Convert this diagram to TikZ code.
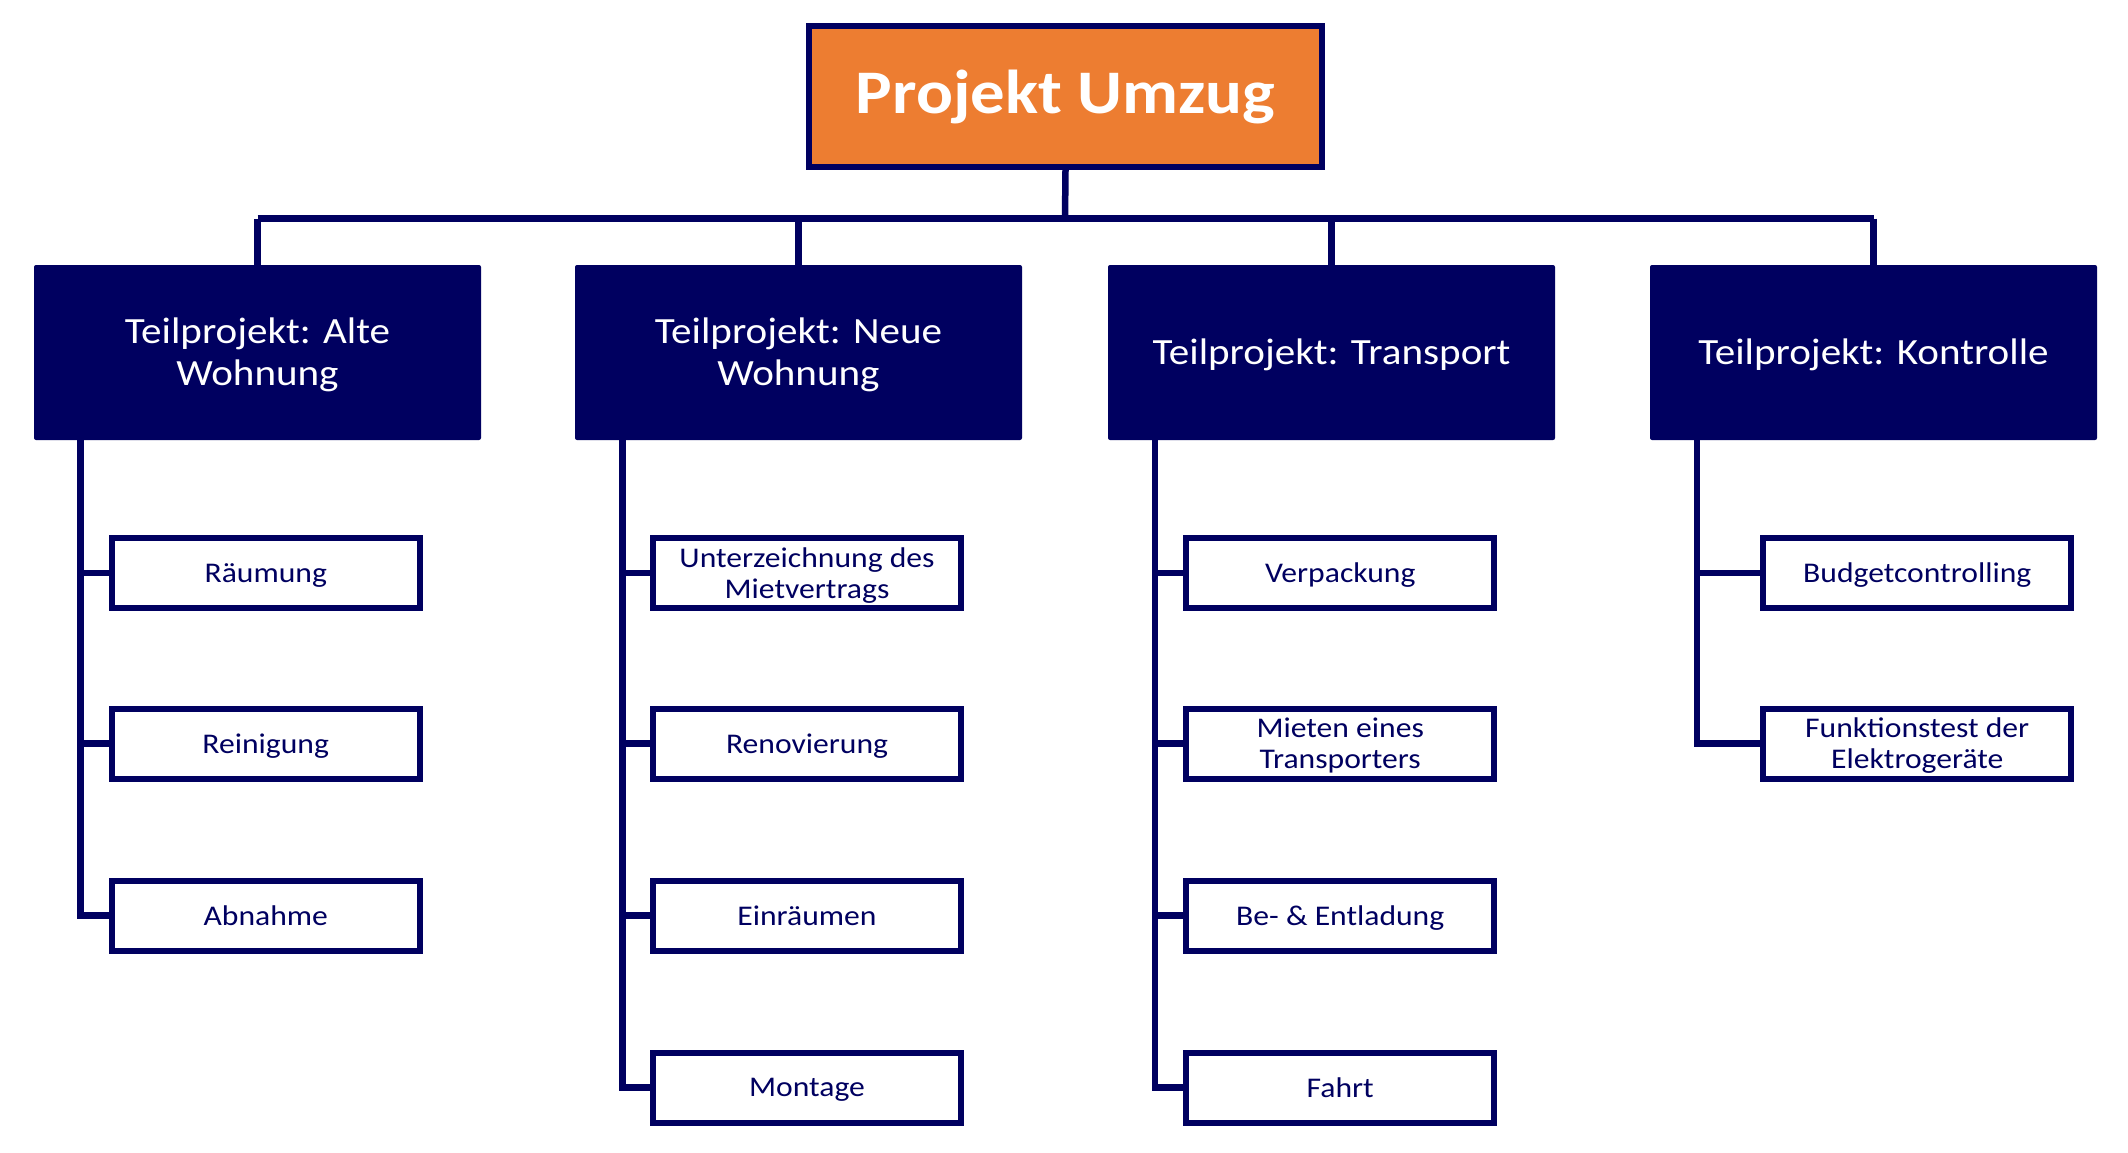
\documentclass[tikz,border=0pt]{standalone}
\usepackage{fontspec}
\setmainfont{Carlito}[FakeStretch=1.11]
\definecolor{navy}{RGB}{0,0,96}
\definecolor{orng}{RGB}{237,125,49}
\begin{document}
\begin{tikzpicture}[x=1pt,y=-1pt,
  titlebox/.style={draw=navy, line width=6pt, fill=orng, minimum width=513pt, minimum height=141pt, inner sep=0pt, text=white, font=\fontsize{62}{70}\selectfont\bfseries},
  subbox/.style={fill=navy, rounded corners=2pt, minimum width=447pt, minimum height=175pt, inner sep=0pt, text=white, align=center, text depth=1pt, font=\fontsize{37}{42}\selectfont},
  leaf/.style={draw=navy, line width=6pt, fill=white, minimum width=308pt, minimum height=70pt, inner sep=0pt, text=navy, align=center, text depth=0pt, font=\fontsize{28.5}{31}\selectfont},
  conn/.style={draw=navy, line width=6.5pt}]
\useasboundingbox[fill=white] (0,0) rectangle (2128,1152);

\node[titlebox] (T) at (1065.5,96.5) {Projekt Umzug};

\node[subbox] (A) at (257.5,352.5) {Teilprojekt: Alte\\Wohnung};
\node[subbox] (B) at (798.5,352.5) {Teilprojekt: Neue\\Wohnung};
\node[subbox] (C) at (1331.5,352.5) {Teilprojekt: Transport};
\node[subbox] (D) at (1873.5,352.5) {Teilprojekt: Kontrolle};

\node[leaf] (a1) at (265.75,573) {Räumung};
\node[leaf] (a2) at (265.75,743.5) {Reinigung};
\node[leaf] (a3) at (265.75,915.5) {Abnahme};

\node[leaf] (b1) at (807,573) {Unterzeichnung des\\Mietvertrags};
\node[leaf] (b2) at (807,743.5) {Renovierung};
\node[leaf] (b3) at (807,915.5) {Einräumen};
\node[leaf] (b4) at (807,1087.5) {Montage};

\node[leaf] (c1) at (1340.25,573) {Verpackung};
\node[leaf] (c2) at (1340.25,743.5) {Mieten eines\\Transporters};
\node[leaf] (c3) at (1340.25,915.5) {Be- \& Entladung};
\node[leaf] (c4) at (1340.25,1087.5) {Fahrt};

\node[leaf] (d1) at (1917.25,573) {Budgetcontrolling};
\node[leaf] (d2) at (1917.25,743.5) {Funktionstest der\\Elektrogeräte};

% bus
\coordinate (bus) at (1065,218.5);
\draw[conn] (T.south) -- (bus);
\draw[conn] (A.north |- bus) -- (D.north |- bus);
\foreach \n in {A,B,C,D} \draw[conn] (\n.north |- bus) -- (\n.north);

% spines
\coordinate (sA) at (80.5,440);
\coordinate (sB) at (622.5,440);
\coordinate (sC) at (1155,440);
\coordinate (sD) at (1697,440);
\draw[conn] (sA |- A.south) |- (a3.west);
\draw[conn] (sB |- B.south) |- (b4.west);
\draw[conn] (sC |- C.south) |- (c4.west);
\draw[conn] (sD |- D.south) |- (d2.west);
\foreach \s/\n in {sA/a1,sA/a2,sB/b1,sB/b2,sB/b3,sC/c1,sC/c2,sC/c3,sD/d1}
  \draw[conn] (\s |- \n.west) -- (\n.west);
\end{tikzpicture}
\end{document}
